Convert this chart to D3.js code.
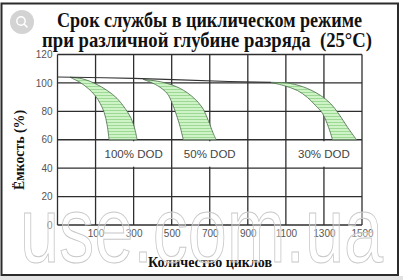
<!DOCTYPE html>
<html>
<head>
<meta charset="utf-8">
<script src="https://cdn.jsdelivr.net/npm/d3@7"></script>
<style>
  html, body { margin: 0; padding: 0; background: #fff; }
  svg { display: block; }
</style>
</head>
<body>
<svg id="chart" width="403" height="280"></svg>
<script>
// Cycle life vs depth of discharge, 25°C
const xTicks = [100, 300, 500, 700, 900, 1100, 1300, 1500];
const yTicks = [0, 20, 40, 60, 80, 100, 120];

// Common capacity line before each curve branches off
const baseCycles   = [-100, 300, 800, 1020];
const baseCapacity = [104.2, 103.2, 101.0, 100.4];

// Band edges for each depth of discharge: outer (upper) and inner (lower) edges
const dod100OuterCycles   = [-34, 34, 97, 161, 213, 255, 287, 308, 318];
const dod100OuterCapacity = [104.0, 102.8, 99.6, 94.7, 89.1, 82.1, 75.1, 66.7, 60];
const dod100InnerCycles   = [-34, 18, 61, 97, 124, 145, 161, 171];
const dod100InnerCapacity = [104.0, 100.4, 96.1, 91.2, 85.6, 79.3, 70.2, 60];

const dod50OuterCycles   = [350, 455, 545, 613, 660, 692, 718, 734];
const dod50OuterCapacity = [102.5, 100.4, 96.1, 89.8, 82.8, 73.7, 64.6, 60];
const dod50InnerCycles   = [350, 424, 476, 503, 529, 545, 561];
const dod50InnerCapacity = [102.5, 98.2, 92.6, 85.6, 75.8, 68.8, 60];

const dod30OuterCycles   = [1018, 1124, 1213, 1282, 1334, 1376, 1424, 1471];
const dod30OuterCapacity = [100.4, 99.6, 96.1, 91.2, 85.6, 78.6, 68.8, 60];
const dod30InnerCycles   = [1018, 1087, 1160, 1213, 1255, 1292, 1324, 1345];
const dod30InnerCapacity = [100.4, 98.2, 94.7, 89.8, 84.2, 78.6, 68.8, 60];

const bandLabels = ["100% DOD", "50% DOD", "30% DOD"];
const labelCycles = [300, 700, 1300];
const labelCapacity = 50;

const titleLines = ["Срок службы в циклическом режиме", "при различной глубине разряда\u00A0 (25°C)"];
const yTitle = "Ёмкость (%)";
const xTitle = "Количество циклов";

const svg = d3.select("#chart");
const W = 403, H = 280;

const x = d3.scaleLinear().domain([-100, 1500]).range([57.5, 362]);
const y = d3.scaleLinear().domain([0, 120]).range([225, 54.5]);

// hatch pattern for the bands
const defs = svg.append("defs");
const pat = defs.append("pattern")
  .attr("id", "hatch").attr("patternUnits", "userSpaceOnUse")
  .attr("width", 6).attr("height", 3);
pat.append("rect").attr("width", 6).attr("height", 3).attr("fill", "#cdf3c6");
pat.append("line").attr("x1", 0).attr("x2", 6).attr("y1", 2.5).attr("y2", 2.5)
  .attr("stroke", "#91d289").attr("stroke-width", 0.8);

// outer frame
svg.append("rect").attr("x", 0).attr("y", 276).attr("width", W).attr("height", 4).attr("fill", "#e2e2e2");
svg.append("rect").attr("x", 1.5).attr("y", 3.5).attr("width", 396.5).attr("height", 271.5)
  .attr("fill", "#fff").attr("stroke", "#2b2b2b").attr("stroke-width", 2);

// title
svg.append("g").selectAll("text").data(titleLines).join("text")
  .attr("x", (d, i) => i === 0 ? 209.5 : 207)
  .attr("y", (d, i) => i === 0 ? 27 : 47)
  .attr("text-anchor", "middle")
  .attr("font-family", "Liberation Serif, Times New Roman, serif")
  .attr("font-weight", "bold").attr("font-size", 22)
  .attr("textLength", (d, i) => i === 0 ? 305 : 330)
  .attr("lengthAdjust", "spacingAndGlyphs")
  .attr("fill", "#111")
  .text(d => d);

// gridlines
const grid = svg.append("g").attr("stroke", "#2e2e2e").attr("stroke-width", 1.3);
grid.selectAll("line.h").data(yTicks).join("line")
  .attr("x1", x(-100)).attr("x2", x(1500))
  .attr("y1", d => y(d)).attr("y2", d => y(d));
grid.selectAll("line.v").data([-100].concat(xTicks)).join("line")
  .attr("x1", d => x(d)).attr("x2", d => x(d))
  .attr("y1", y(0)).attr("y2", y(120));

// bands
const curve = d3.line().x(d => x(d[0])).y(d => y(d[1])).curve(d3.curveCatmullRom.alpha(0.5));
const zip = (a, b) => a.map((v, i) => [v, b[i]]);
const bands = [
  [zip(dod100OuterCycles, dod100OuterCapacity), zip(dod100InnerCycles, dod100InnerCapacity)],
  [zip(dod50OuterCycles, dod50OuterCapacity), zip(dod50InnerCycles, dod50InnerCapacity)],
  [zip(dod30OuterCycles, dod30OuterCapacity), zip(dod30InnerCycles, dod30InnerCapacity)]
];
const bandG = svg.append("g");
bands.forEach(([outer, inner]) => {
  const p = curve(outer) + curve(inner.slice().reverse()).replace(/^M/, "L") + "Z";
  bandG.append("path").attr("d", p).attr("fill", "url(#hatch)")
    .attr("stroke", "#4a6a4a").attr("stroke-width", 0.8);
});

// common top line
svg.append("path").attr("d", curve(zip(baseCycles, baseCapacity)))
  .attr("fill", "none").attr("stroke", "#333").attr("stroke-width", 1.1);

// band labels
const lab = svg.append("g");
lab.selectAll("rect").data(labelCycles).join("rect")
  .attr("x", d => x(d) - 31).attr("y", y(60) + 1.5)
  .attr("width", 62).attr("height", y(40) - y(60) - 3)
  .attr("fill", "#fff");
lab.selectAll("text").data(bandLabels).join("text")
  .attr("x", (d, i) => x(labelCycles[i]))
  .attr("y", y(labelCapacity) + 4)
  .attr("text-anchor", "middle")
  .attr("font-family", "Liberation Sans, Arial, sans-serif")
  .attr("font-size", 11.5).attr("fill", "#444")
  .text(d => d);

// axes labels
const yAxis = d3.axisLeft(y).tickValues(yTicks).tickSize(0).tickPadding(5);
const yg = svg.append("g").attr("transform", `translate(${x(-100)},0)`).call(yAxis);
yg.select(".domain").remove();
yg.selectAll("text").attr("font-family", "Liberation Sans, Arial, sans-serif")
  .attr("font-size", 10).attr("fill", "#555");

const xAxis = d3.axisBottom(x).tickValues(xTicks).tickSize(0).tickPadding(5).tickFormat(d3.format("d"));
const xg = svg.append("g").attr("transform", `translate(0,${y(0)})`).call(xAxis);
xg.select(".domain").remove();
xg.selectAll("text").attr("font-family", "Liberation Sans, Arial, sans-serif")
  .attr("font-size", 10).attr("fill", "#555");

// axis titles
svg.append("text").attr("transform", "translate(24,150) rotate(-90)")
  .attr("text-anchor", "middle")
  .attr("font-family", "Liberation Serif, Times New Roman, serif")
  .attr("font-weight", "bold").attr("font-size", 15)
  .attr("textLength", 80).attr("lengthAdjust", "spacingAndGlyphs")
  .attr("fill", "#111").text(yTitle);
svg.append("text").attr("x", 210).attr("y", 267)
  .attr("text-anchor", "middle")
  .attr("font-family", "Liberation Serif, Times New Roman, serif")
  .attr("font-weight", "bold").attr("font-size", 15)
  .attr("textLength", 124).attr("lengthAdjust", "spacingAndGlyphs")
  .attr("fill", "#111").text(xTitle);

// site watermark
svg.append("text").attr("x", 20).attr("y", 262)
  .attr("font-family", "Liberation Sans, Arial, sans-serif")
  .attr("font-size", 92)
  .attr("textLength", 363).attr("lengthAdjust", "spacingAndGlyphs")
  .attr("fill", "#fff").attr("fill-opacity", 0.35)
  .attr("stroke", "#c8c8c8").attr("stroke-width", 1)
  .text("use.com.ua");

// zoom badge
const badge = svg.append("g").attr("transform", "translate(22,22)");
badge.append("circle").attr("r", 12).attr("fill", "#d3d3d3");
badge.append("circle").attr("cx", -1).attr("cy", -1).attr("r", 4.2)
  .attr("fill", "none").attr("stroke", "#fff").attr("stroke-width", 1.4);
badge.append("line").attr("x1", 2).attr("y1", 2).attr("x2", 5.5).attr("y2", 5.5)
  .attr("stroke", "#fff").attr("stroke-width", 1.6);
</script>
</body>
</html>
